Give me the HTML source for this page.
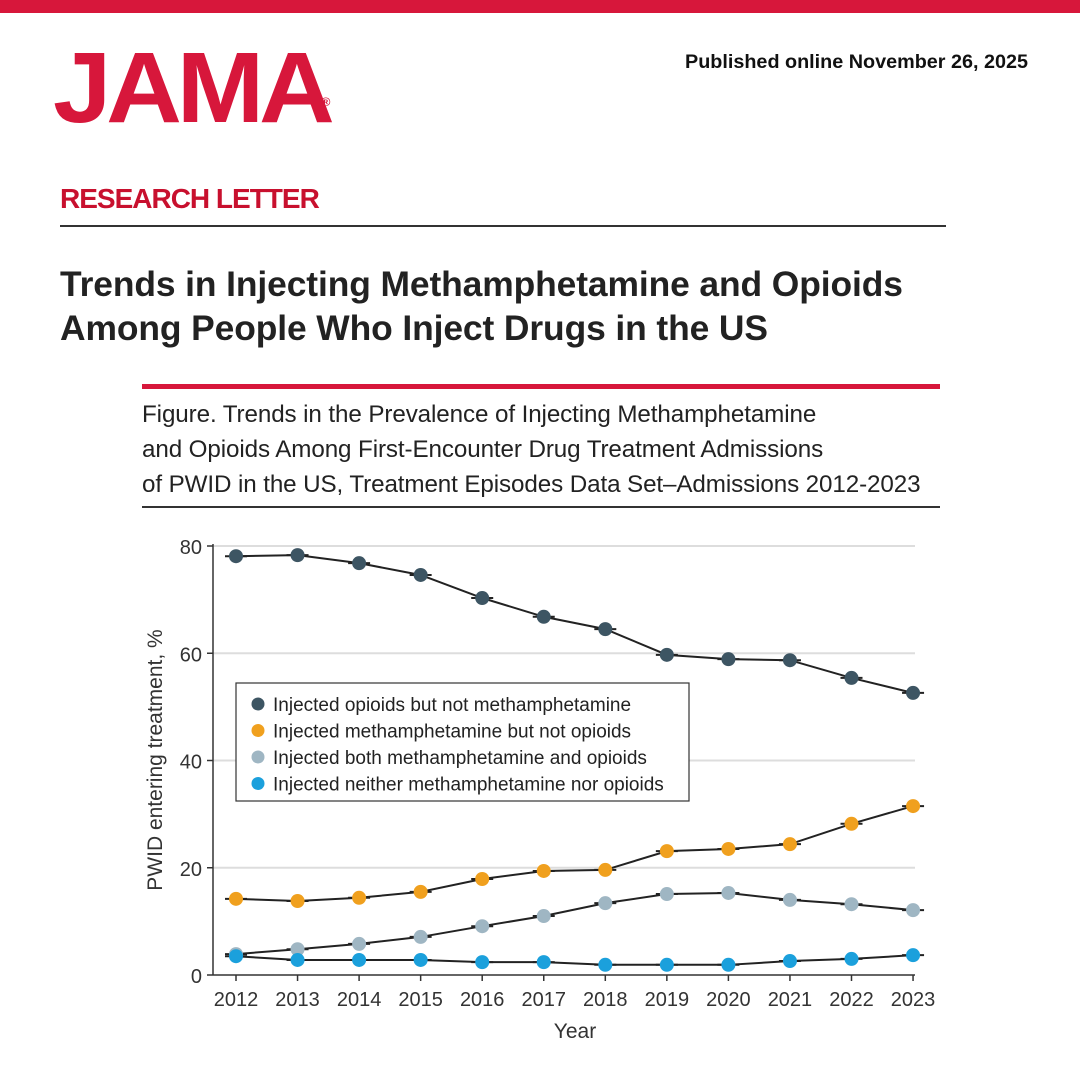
<!DOCTYPE html>
<html><head><meta charset="utf-8"><style>
body{margin:0;width:1080px;height:1080px;background:#fff;position:relative;overflow:hidden;font-family:"Liberation Sans",sans-serif}
.a{position:absolute;white-space:nowrap}
</style></head><body>
<div class="a" style="left:0;top:0;width:1080px;height:13px;background:#d7173b"></div>
<div class="a" style="left:53px;top:38px;font-size:100px;font-weight:bold;color:#d7173b;letter-spacing:-5px;line-height:100px;transform:scaleX(1.05);transform-origin:left">JAMA<span style="font-size:12px;vertical-align:top;letter-spacing:0;position:relative;top:14px;left:-8px">®</span></div>
<div class="a" style="left:685px;top:51px;font-size:19.8px;font-weight:bold;color:#111">Published online November 26, 2025</div>
<div class="a" style="left:60px;top:183px;font-size:28px;font-weight:bold;color:#c8102e;letter-spacing:-1px">RESEARCH LETTER</div>
<div class="a" style="left:60px;top:225px;width:886px;height:2px;background:#333"></div>
<div class="a" style="left:60px;top:262px;font-size:35.4px;font-weight:bold;color:#222;letter-spacing:-0.1px;line-height:44px">Trends in Injecting Methamphetamine and Opioids<br>Among People Who Inject Drugs in the US</div>
<div class="a" style="left:142px;top:384px;width:798px;height:5px;background:#d7173b"></div>
<div class="a" style="left:142px;top:397px;font-size:24.2px;color:#222;letter-spacing:-0.1px;line-height:35px">Figure. Trends in the Prevalence of Injecting Methamphetamine<br>and Opioids Among First-Encounter Drug Treatment Admissions<br>of PWID in the US, Treatment Episodes Data Set–Admissions 2012-2023</div>
<div class="a" style="left:142px;top:506px;width:798px;height:2px;background:#333"></div>
<svg class="a" style="left:0;top:0" width="1080" height="1080" id="chart"></svg>
<script>
const years=[2012,2013,2014,2015,2016,2017,2018,2019,2020,2021,2022,2023];
const opioids=[78.1,78.3,76.8,74.6,70.3,66.8,64.5,59.7,58.9,58.7,55.4,52.6];
const meth=[14.2,13.8,14.4,15.5,17.9,19.4,19.6,23.1,23.5,24.4,28.2,31.5];
const both=[3.9,4.8,5.8,7.1,9.1,11.0,13.4,15.1,15.3,14.0,13.2,12.1];
const neither=[3.5,2.8,2.8,2.8,2.4,2.4,1.9,1.9,1.9,2.6,3.0,3.7];
const yTicks=[0,20,40,60,80];
const seriesNames=["Injected opioids but not methamphetamine","Injected methamphetamine but not opioids","Injected both methamphetamine and opioids","Injected neither methamphetamine nor opioids"];
const colors=["#3d5563","#f0a01e","#9fb6c3","#1ba0dc"];
const svg=document.getElementById('chart');const NS='http://www.w3.org/2000/svg';
const X=y=>236+(y-2012)*61.55;const Y=v=>975-v*5.3625;
function mk(t,a,p){const e=document.createElementNS(NS,t);for(const k in a)e.setAttribute(k,a[k]);(p||svg).appendChild(e);return e;}
yTicks.forEach(t=>{if(t>0){const g=mk('line',{x1:213,x2:915,y1:Y(t),y2:Y(t),stroke:'#ddd','stroke-width':2});}
const l=mk('text',{x:202,y:Y(t)+8,'text-anchor':'end','font-size':20,fill:'#333','font-family':'Liberation Sans Narrow, Liberation Sans, sans-serif'});l.textContent=t;
mk('line',{x1:207,x2:213,y1:Y(t),y2:Y(t),stroke:'#333','stroke-width':1.5});});
const ya=mk('line',{x1:213,x2:213,y1:Y(80)-2,y2:975,stroke:'#333','stroke-width':1.5});
const xa=mk('line',{x1:213,x2:915,y1:975,y2:975,stroke:'#333','stroke-width':1.5});
years.forEach(y=>{mk('line',{x1:X(y),x2:X(y),y1:975,y2:981,stroke:'#333','stroke-width':1.5});
const l=mk('text',{x:X(y),y:1006,'text-anchor':'middle','font-size':20,fill:'#333','font-family':'Liberation Sans Narrow, Liberation Sans, sans-serif'});l.textContent=y;});
const xt=mk('text',{x:575,y:1038,'text-anchor':'middle','font-size':21,fill:'#333'});xt.textContent='Year';
const yt=mk('text',{x:0,y:0,'text-anchor':'middle','font-size':21,fill:'#333',transform:'translate(162,760) rotate(-90)'});yt.textContent='PWID entering treatment, %';
[opioids,meth,both,neither].forEach((s,i)=>{
const p=mk('polyline',{points:s.map((v,j)=>X(years[j])+','+Y(v)).join(' '),fill:'none',stroke:'#222','stroke-width':2});
s.forEach((v,j)=>{mk('line',{x1:X(years[j])-11,x2:X(years[j])+11,y1:Y(v),y2:Y(v),stroke:'#222','stroke-width':2});
const c=mk('circle',{cx:X(years[j]),cy:Y(v),r:7,fill:colors[i]});});});
const lg=mk('rect',{x:236,y:683,width:453,height:118,fill:'#fff',stroke:'#333','stroke-width':1.2});
seriesNames.forEach((n,i)=>{const yy=704+i*26.5;mk('circle',{cx:258,cy:yy,r:6.5,fill:colors[i]});
const t=mk('text',{x:273,y:yy+7,'font-size':19,fill:'#222','font-family':'Liberation Sans Narrow, Liberation Sans, sans-serif'});t.textContent=n;});
</script>
</body></html>
